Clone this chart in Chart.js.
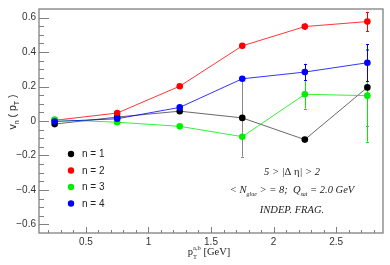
<!DOCTYPE html>
<html><head><meta charset="utf-8">
<script src="https://cdn.jsdelivr.net/npm/chart.js@4"></script>
<style>html,body{margin:0;padding:0;background:#fff}canvas{display:block}</style>
</head><body>
<canvas id="c" width="390" height="265"></canvas>
<script>
// ---- data ----
const ptBins = [0.25, 0.75, 1.25, 1.75, 2.25, 2.75];
const v1 = [-0.018, 0.023, 0.057, 0.018, -0.108, 0.195];
const e1 = [0.005, 0.008, 0.008, 0.225, 0.008, 0.223];
const v2 = [0.004, 0.046, 0.202, 0.436, 0.548, 0.577];
const e2 = [0.005, 0.008, 0.008, 0.010, 0.020, 0.057];
const v3 = [0.008, -0.007, -0.031, -0.091, 0.155, 0.147];
const e3 = [0.005, 0.008, 0.008, 0.012, 0.083, 0.267];
const v4 = [-0.003, 0.013, 0.079, 0.245, 0.284, 0.338];
const e4 = [0.005, 0.008, 0.012, 0.015, 0.048, 0.107];
const seriesLabels = ['n = 1', 'n = 2', 'n = 3', 'n = 4'];
const seriesColors = ['#000000', '#ff0000', '#00ee00', '#0000ff'];
const xTickValues = [0.5, 1, 1.5, 2, 2.5];
const yTickValues = [-0.6, -0.4, -0.2, 0, 0.2, 0.4, 0.6];

const values = [v1, v2, v3, v4];
const errors = [e1, e2, e3, e4];
const drawOrder = [4, 3, 2, 1];

const datasets = values.map((vals, i) => ({
  label: seriesLabels[i],
  data: ptBins.map((x, j) => ({x: x, y: vals[j]})),
  errs: errors[i],
  borderColor: i === 0 ? '#444444' : seriesColors[i],
  backgroundColor: seriesColors[i],
  pointBackgroundColor: seriesColors[i],
  pointBorderWidth: 0,
  pointRadius: 3.3,
  borderWidth: 0.8,
  tension: 0,
  order: drawOrder[i],
  showLine: true,
  clip: false
}));

const frameColor = '#808080';

const decor = {
  id: 'decor',
  beforeDatasetsDraw(chart) {
    const ctx = chart.ctx, a = chart.chartArea;
    const xs = chart.scales.x, ys = chart.scales.y;
    ctx.save();
    // frame
    ctx.strokeStyle = frameColor;
    ctx.lineWidth = 1.3;
    ctx.strokeRect(a.left, a.top, a.right - a.left, a.bottom - a.top);
    // y ticks (inward)
    ctx.lineWidth = 1;
    for (let k = -12; k <= 12; k++) {
      const v = k * 0.05;
      const py = Math.round(ys.getPixelForValue(v)) + 0.5;
      const len = (k % 4 === 0) ? 10 : 5;
      ctx.beginPath(); ctx.moveTo(a.left, py); ctx.lineTo(a.left + len, py); ctx.stroke();
    }
    // x ticks (inward)
    for (let k = 2; k <= 28; k++) {
      const v = k * 0.1;
      const px = Math.round(xs.getPixelForValue(v)) + 0.5;
      const len = (k % 5 === 0) ? 6 : 3;
      ctx.beginPath(); ctx.moveTo(px, a.bottom); ctx.lineTo(px, a.bottom - len); ctx.stroke();
    }
    // error bars
    chart.data.datasets.forEach((ds, i) => {
      ctx.strokeStyle = i === 0 ? '#888888' : ds.pointBackgroundColor;
      ctx.lineWidth = 1;
      ds.data.forEach((p, j) => {
        const e = ds.errs[j];
        const px = Math.round(xs.getPixelForValue(p.x)) + 0.5;
        const y1 = ys.getPixelForValue(p.y + e), y2 = ys.getPixelForValue(p.y - e);
        ctx.beginPath(); ctx.moveTo(px, y1); ctx.lineTo(px, y2); ctx.stroke();
        if (y2 - y1 > 7) {
          ctx.beginPath();
          ctx.moveTo(px - 1.5, Math.round(y1) + 0.5); ctx.lineTo(px + 1.5, Math.round(y1) + 0.5);
          ctx.moveTo(px - 1.5, Math.round(y2) + 0.5); ctx.lineTo(px + 1.5, Math.round(y2) + 0.5);
          ctx.stroke();
        }
      });
    });
    ctx.restore();
  },
  afterDraw(chart) {
    const ctx = chart.ctx;
    ctx.save();
    ctx.fillStyle = '#222';
    // legend
    ctx.textBaseline = 'middle';
    ctx.textAlign = 'left';
    ctx.font = '10px "Liberation Sans", Arial, sans-serif';
    const ly = [154, 170.5, 187, 203.5];
    seriesLabels.forEach((lab, i) => {
      ctx.fillStyle = seriesColors[i];
      ctx.beginPath(); ctx.arc(71, ly[i], 3.2, 0, Math.PI * 2); ctx.fill();
      ctx.fillStyle = '#222';
      ctx.fillText(lab, 82, ly[i] + 0.5);
    });
    // helper for runs of text with sub/superscripts
    function runs(parts, cx, y, align) {
      let w = 0;
      parts.forEach(p => { ctx.font = p.f; p.w = ctx.measureText(p.t).width; if (!p.noAdv) w += p.w; });
      let x = align === 'center' ? cx - w / 2 : cx;
      ctx.textAlign = 'left';
      ctx.textBaseline = 'alphabetic';
      parts.forEach(p => { ctx.font = p.f; ctx.fillText(p.t, x, y + (p.dy || 0)); if (!p.noAdv) x += p.w; });
    }
    const it = 'italic 10.5px "Liberation Serif", "Times New Roman", serif';
    const up = '10.5px "Liberation Serif", "Times New Roman", serif';
    const itS = 'italic 6px "Liberation Serif", serif';
    ctx.fillStyle = '#222';
    runs([{t: '5 > |', f: it}, {t: 'Δ η', f: up}, {t: '| > 2', f: it}], 292, 174.5, 'center');
    runs([{t: '< N', f: it}, {t: 'glue', f: itS, dy: 3}, {t: ' > = 8;  Q', f: it}, {t: 'sat', f: itS, dy: 3}, {t: ' = 2.0 GeV', f: it}], 292, 192.5, 'center');
    runs([{t: 'INDEP. FRAG.', f: it}], 292, 213, 'center');
    // x title
    const sf = '10.5px "Liberation Serif", "Times New Roman", serif';
    const ss = '6.5px "Liberation Serif", serif';
    runs([{t: 'p', f: sf}, {t: 'T', f: ss, dy: 4, noAdv: true}, {t: 'a,b', f: ss, dy: -5}, {t: ' [GeV]', f: sf}], 209, 254.5, 'center');
    // y title
    ctx.translate(16, 112);
    ctx.rotate(-Math.PI / 2);
    const yf = '10.5px "Liberation Sans", Arial, sans-serif';
    const yfs = '7px "Liberation Sans", Arial, sans-serif';
    runs([{t: 'v', f: yf}, {t: 'n', f: yfs, dy: 2.5}, {t: ' ( p', f: yf}, {t: 'T', f: yfs, dy: 2.5}, {t: ' )', f: yf}], 0, 0, 'center');
    ctx.restore();
  }
};

Chart.defaults.font.family = '"Liberation Sans", Arial, sans-serif';
Chart.defaults.color = '#333';

new Chart(document.getElementById('c'), {
  type: 'line',
  data: {datasets: datasets},
  options: {
    responsive: false,
    animation: false,
    devicePixelRatio: 1,
    layout: {padding: {left: 0, top: 5, right: 7, bottom: 0}},
    plugins: {legend: {display: false}, tooltip: {enabled: false}},
    scales: {
      x: {
        type: 'linear', min: 0.125, max: 2.875,
        grid: {display: false, drawTicks: false}, border: {display: false},
        afterBuildTicks: s => { s.ticks = xTickValues.map(v => ({value: v})); },
        afterFit: s => { s.height = 32; },
        ticks: {padding: 3, font: {size: 10}, color: '#333', maxRotation: 0, autoSkip: false,
          callback: v => String(v)}
      },
      y: {
        type: 'linear', min: -0.65, max: 0.65,
        grid: {display: false, drawTicks: false}, border: {display: false},
        afterBuildTicks: s => { s.ticks = yTickValues.map(v => ({value: v})); },
        afterFit: s => { s.width = 39; },
        ticks: {padding: 3, font: {size: 10}, color: '#333', autoSkip: false,
          callback: v => v === 0 ? '0' : (v < 0 ? '\u2212' + Math.abs(v).toFixed(1) : v.toFixed(1))}
      }
    }
  },
  plugins: [decor]
});
</script>
</body></html>
